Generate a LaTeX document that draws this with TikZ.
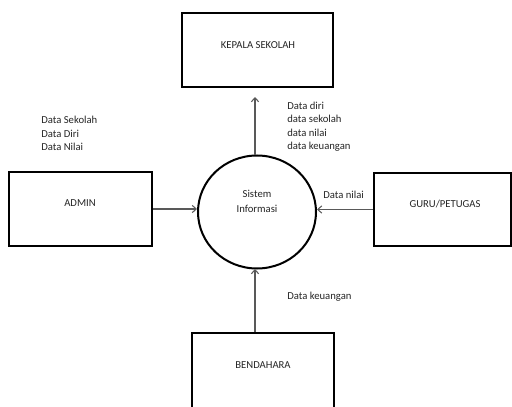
\documentclass[tikz,border=0pt]{standalone}
\usepackage{fontspec}
\setmainfont{Carlito}
\usetikzlibrary{shapes.geometric,arrows.meta}
\begin{document}
\begin{tikzpicture}[x=0.75pt,y=-0.75pt,
  box/.style={draw=black,line width=1.5pt,rectangle,minimum width=#1,inner sep=0pt},
  lbl/.style={font=\fontsize{8}{10.1}\selectfont,text=black!85,inner sep=0pt,align=left},
  ttl/.style={font=\fontsize{8}{10}\selectfont,text=black!85,inner sep=0pt},
  arr/.style={draw=black!65,line width=0.8pt,-{Straight Barb[length=3pt,width=5.5pt]}}]
\clip (0,0) rectangle (512,407);
\fill[white] (0,0) rectangle (512,407);
% boxes
\node[box=113.25pt,minimum height=55.5pt] (kep) at (257.5,50) {};
\node[box=107.25pt,minimum height=55.5pt] (adm) at (80.5,209) {};
\node[box=102.75pt,minimum height=54.75pt] (gur) at (442.5,209.5) {};
\node[box=106.5pt,minimum height=60pt] (ben) at (263,373) {};
% process
\node[draw=black,line width=1.5pt,ellipse,minimum width=88.5pt,minimum height=84.75pt,inner sep=0pt] (sis) at (257,212) {};
% texts
\node[ttl] (tkep) at (258,45) {KEPALA SEKOLAH};
\node[ttl] (tadm) at (80,203) {ADMIN};
\node[ttl] (tgur) at (445,204) {GURU/PETUGAS};
\node[ttl] (tben) at (263,365) {BENDAHARA};
\node[ttl,align=center,font=\fontsize{8}{11}\selectfont] (tsis) at (257,201.5) {Sistem\\Informasi};
% labels
\node[lbl,anchor=west] (ladm) at (41,133.5) {Data Sekolah\\Data Diri\\Data Nilai};
\node[lbl,anchor=west] (lkep) at (287,126.5) {Data diri\\data sekolah\\data nilai\\data keuangan};
\node[lbl,anchor=west] (lgur) at (323,195) {Data nilai};
\node[lbl,anchor=west] (lben) at (287,297) {Data keuangan};
% arrows
\coordinate (ktip) at (255,97);
\coordinate (btip) at (255,269);
\coordinate (atip) at (197,209);
\draw[arr] (adm.east) -- (atip);
\draw[arr] (gur.west) -- (gur.west -| sis.east);
\draw[arr] (ktip |- sis.north) -- (ktip);
\draw[arr] (btip |- ben.north) -- (btip);
\end{tikzpicture}
\end{document}
